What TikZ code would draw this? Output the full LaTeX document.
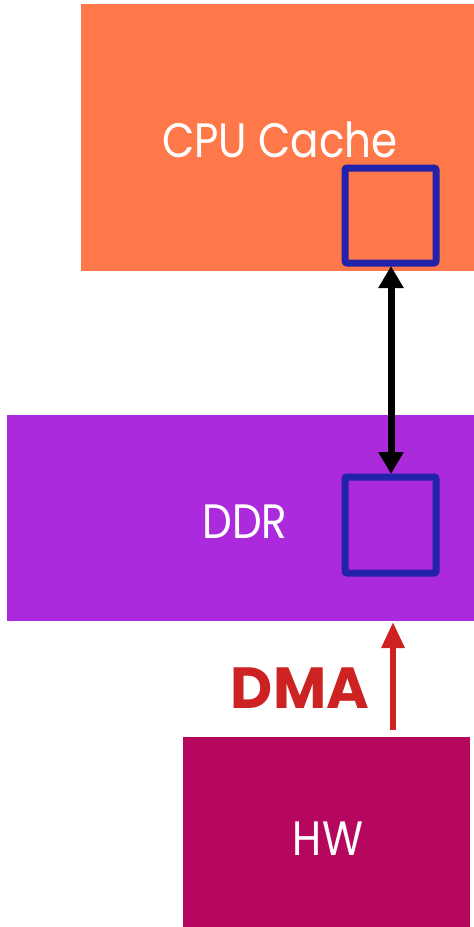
\documentclass[tikz,border=0pt]{standalone}
\usepackage{fontspec}
\setmainfont{Poppins}
\usetikzlibrary{arrows.meta}
\definecolor{cachecol}{HTML}{FF784A}
\definecolor{ddrcol}{HTML}{AA2ADC}
\definecolor{hwcol}{HTML}{B5075E}
\definecolor{linecol}{HTML}{2222AA}
\definecolor{dmacol}{HTML}{CC2222}
\newcommand{\tallcaps}[1]{\scalebox{1}[1.15]{#1}}
\tikzset{
  block/.style={fill=#1, draw=none},
  blocklabel/.style={text=white, font=\fontsize{42}{42}\selectfont, inner sep=0pt, anchor=base},
  cell/.style={draw=linecol, line width=7pt, rounded corners=2pt},
  bus/.style={line width=7pt, {Triangle[width=24pt,length=22pt]}-{Triangle[width=24pt,length=22pt]}},
  dmaarrow/.style={dmacol, line width=6pt, -{Triangle[width=22pt,length=26pt]}},
}
\begin{document}
\begin{tikzpicture}[x=1pt,y=-1pt]
\useasboundingbox (0,0) rectangle (474,927);
% memory blocks
\fill[block=cachecol] (81,4) rectangle (474,271);
\fill[block=ddrcol] (7,415) rectangle (474,621);
\fill[block=hwcol] (183,737) rectangle (470,927);
\node[blocklabel] (cachelbl) at (280,157) {\tallcaps{CPU Cache}};
\node[blocklabel] (ddrlbl) at (245,538) {\tallcaps{DDR}};
\node[blocklabel] (hwlbl) at (328,855) {\tallcaps{HW}};
% cache lines
\draw[cell] (345,168) rectangle (436,263);
\draw[cell] (345,477) rectangle (436,573);
\coordinate (cachebot) at (391,266);
\coordinate (ddrtop) at (391,474);
\draw[bus] (cachebot) -- (ddrtop);
% DMA transfer
\coordinate (dmafrom) at (393,730);
\coordinate (dmato) at (393,622);
\draw[dmaarrow] (dmafrom) -- (dmato);
\node[text=dmacol, font=\fontsize{58}{58}\selectfont\bfseries, inner sep=0pt] (dmalbl) at (300,688) {DMA};
\end{tikzpicture}
\end{document}
